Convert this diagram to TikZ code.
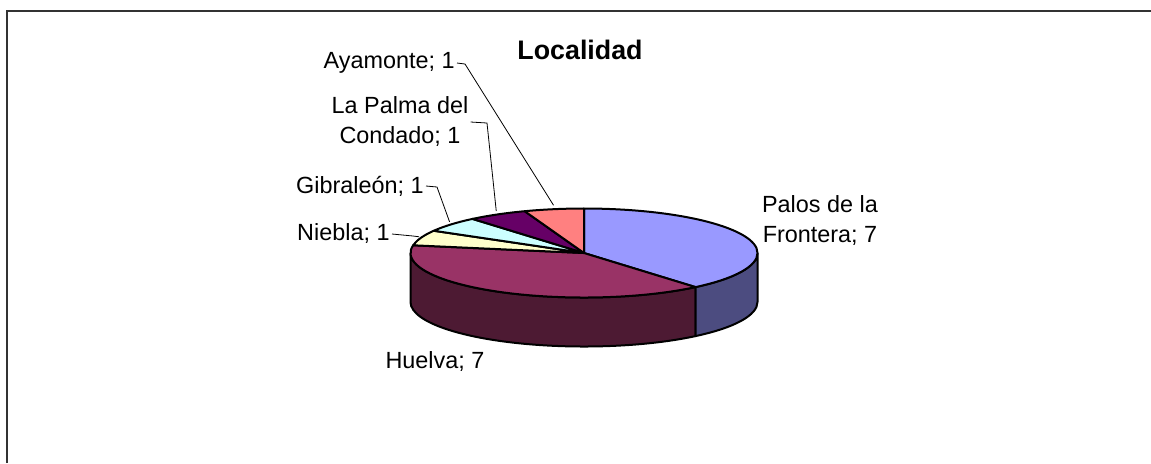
\documentclass[tikz,border=0pt]{standalone}
\usepackage{fontspec}
\setmainfont{Liberation Sans}
\definecolor{palos}{HTML}{9999FF}
\definecolor{palosside}{HTML}{4C4C80}
\definecolor{huelva}{HTML}{993366}
\definecolor{huelvaside}{HTML}{4D1A33}
\definecolor{niebla}{HTML}{FFFFCC}
\definecolor{gibra}{HTML}{CCFFFF}
\definecolor{palma}{HTML}{660066}
\definecolor{ayam}{HTML}{FF8080}
\begin{document}
\begin{tikzpicture}[x=0.5pt, y=0.5pt,
  every node/.style={inner xsep=1pt, inner ysep=0pt, font=\fontsize{11.7}{15}\selectfont},
  slice/.style={draw=black, line width=1pt, line join=round},
  leader/.style={draw=black, line width=0.4pt},
  rim/.style={x radius=173.5, y radius=44.5}]
\useasboundingbox (0,-463) rectangle (1151,0);
\draw[line width=1pt, black!80] (7,-463) -- (7,-11) -- (1151,-11);
\coordinate (C) at (584,-253);
% side walls
\draw[slice, fill=huelvaside] (C) ++(180:173.5 and 44.5) arc[rim, start angle=180, end angle=310] -- ++(0,-49) arc[rim, start angle=310, end angle=180] -- cycle;
\draw[slice, fill=palosside] (C) ++(310:173.5 and 44.5) arc[rim, start angle=310, end angle=360] -- ++(0,-49) arc[rim, start angle=360, end angle=310] -- cycle;
% top slices
\draw[slice, fill=palos] (C) -- ++(90:173.5 and 44.5) arc[rim, start angle=90, end angle=-50] -- cycle;
\draw[slice, fill=huelva] (C) -- ++(-50:173.5 and 44.5) arc[rim, start angle=-50, end angle=-190] -- cycle;
\draw[slice, fill=niebla] (C) -- ++(170:173.5 and 44.5) arc[rim, start angle=170, end angle=150] -- cycle;
\draw[slice, fill=gibra] (C) -- ++(150:173.5 and 44.5) arc[rim, start angle=150, end angle=130] -- cycle;
\draw[slice, fill=palma] (C) -- ++(130:173.5 and 44.5) arc[rim, start angle=130, end angle=110] -- cycle;
\draw[slice, fill=ayam] (C) -- ++(110:173.5 and 44.5) arc[rim, start angle=110, end angle=90] -- cycle;
% labels
\node[font=\bfseries\fontsize{13.4}{16}\selectfont] (title) at (580,-50) {Localidad};
\node[anchor=east] (LAya) at (457,-63) {Ayamonte; 1};
\node[align=center] (LPal) at (400,-122) {La Palma del\\Condado; 1};
\node[anchor=east] (LGib) at (426,-186) {Gibraleón; 1};
\node[anchor=east] (LNie) at (392,-234) {Niebla; 1};
\node (LHue) at (435,-362) {Huelva; 7};
\node[align=center] (LPF) at (820,-221) {Palos de la\\Frontera; 7};
% leaders
\path (C) ++(100:175.5 and 48.5) coordinate (AyaP);
\path (C) ++(120:175.5 and 48.5) coordinate (PalP);
\path (C) ++(140:175.5 and 48.5) coordinate (GibP);
\path (C) ++(160:175.5 and 47.5) coordinate (NieP);
\coordinate (AyaK) at (465,-64);
\coordinate (PalK) at (487,-123);
\coordinate (GibK) at (437,-187);
\coordinate (NieK) at (413,-236);
\draw[leader] (LAya.east) -- (AyaK) -- (AyaP);
\draw[leader] (LPal.east) -- (PalK) -- (PalP);
\draw[leader] (LGib.east) -- (GibK) -- (GibP);
\draw[leader] (LNie.east) -- (NieK) -- (NieP);
\end{tikzpicture}
\end{document}
